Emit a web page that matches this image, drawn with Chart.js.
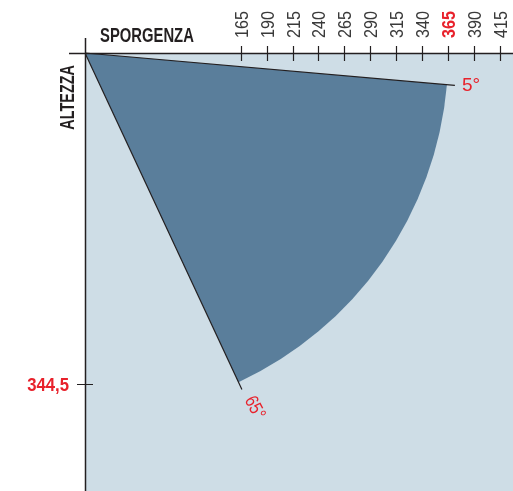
<!DOCTYPE html>
<html>
<head>
<meta charset="utf-8">
<script src="https://cdn.jsdelivr.net/npm/chart.js@4.4.1/dist/chart.umd.min.js"></script>
<style>
  html, body { margin: 0; padding: 0; background: #fff; }
  #wrap { position: relative; width: 513px; height: 491px; }
</style>
</head>
<body>
<div id="wrap"><canvas id="awning"></canvas></div>
<script>
// sporgenza (cm) tick labels on the top axis
const sporgenzaTicks = [165, 190, 215, 240, 265, 290, 315, 340, 365, 390, 415];
// altezza (cm) tick labels on the left axis
const altezzaTicks = [344.5];
// inclination range of the arm, degrees
const angoli = [5, 65];
// selected projection shown in the diagram
const sporgenzaSel = 365;

const RED = "#e8212b";
const DARK = "#231f20";
const FONT = "'Liberation Sans', Arial, sans-serif";

const rad = (d) => (d * Math.PI) / 180;

// condensed text: rotate then squeeze horizontally
function text(ctx, str, x, y, opts) {
  const o = Object.assign({ rot: 0, sx: 1, align: "left", base: "alphabetic" }, opts);
  ctx.save();
  ctx.translate(x, y);
  ctx.rotate(o.rot);
  ctx.scale(o.sx, 1);
  ctx.font = o.font;
  ctx.fillStyle = o.color;
  ctx.textAlign = o.align;
  ctx.textBaseline = o.base;
  ctx.fillText(str, 0, 0);
  ctx.restore();
}

const awningPlugin = {
  id: "awning",
  beforeDraw(chart) {
    const { ctx, chartArea: a } = chart;
    ctx.save();
    ctx.fillStyle = "#cedde6";
    ctx.fillRect(a.left, a.top, a.right - a.left, a.bottom - a.top);
    ctx.restore();
  },
  afterDraw(chart) {
    const { ctx, chartArea: a } = chart;
    const sx = chart.scales.x;
    const sy = chart.scales.y;
    const st = chart.scales.xTicks;
    const ox = sx.getPixelForValue(0);
    const oy = sy.getPixelForValue(0);
    const r = sx.getPixelForValue(sporgenzaSel) - ox;

    ctx.save();
    // sector
    ctx.beginPath();
    ctx.moveTo(ox, oy);
    ctx.arc(ox, oy, r, rad(angoli[0]), rad(angoli[1]));
    ctx.closePath();
    ctx.fillStyle = "#5a7e9b";
    ctx.fill();

    // arm lines
    const rl = r * 1.022;
    ctx.strokeStyle = DARK;
    ctx.lineWidth = 1.2;
    const ends = angoli.map((g) => [ox + rl * Math.cos(rad(g)), oy + rl * Math.sin(rad(g))]);
    ends.forEach(([ex, ey]) => {
      ctx.beginPath();
      ctx.moveTo(ox, oy);
      ctx.lineTo(ex, ey);
      ctx.stroke();
    });

    // axes
    ctx.lineWidth = 1.5;
    ctx.beginPath();
    ctx.moveTo(ox - 16, oy + 0.5);
    ctx.lineTo(a.right, oy + 0.5);
    ctx.moveTo(ox + 0.5, oy - 15);
    ctx.lineTo(ox + 0.5, a.bottom);
    ctx.stroke();

    // tick marks crossing the axes + tick labels
    ctx.lineWidth = 1.2;
    ctx.beginPath();
    st.ticks.forEach((t) => {
      const px = Math.round(st.getPixelForValue(t.value)) + 0.5;
      ctx.moveTo(px, oy - 7);
      ctx.lineTo(px, oy + 8);
    });
    sy.ticks.forEach((t) => {
      const py = Math.round(sy.getPixelForValue(t.value)) + 0.5;
      ctx.moveTo(ox - 8, py);
      ctx.lineTo(ox + 8, py);
    });
    ctx.stroke();

    st.ticks.forEach((t) => {
      const sel = t.value === sporgenzaSel;
      text(ctx, String(t.value), st.getPixelForValue(t.value) + 7, oy - 15, {
        rot: -Math.PI / 2, sx: 0.85,
        font: (sel ? "bold " : "") + "19px " + FONT,
        color: sel ? RED : "#3a3a3a",
      });
    });
    sy.ticks.forEach((t) => {
      text(ctx, String(t.value).replace(".", ","), ox - 16, sy.getPixelForValue(t.value) + 7, {
        sx: 0.88, align: "right",
        font: "bold 19px " + FONT, color: RED,
      });
    });

    // axis titles
    text(ctx, "SPORGENZA", ox + 15, oy - 11, { sx: 0.76, font: "bold 19.5px " + FONT, color: DARK });
    text(ctx, "ALTEZZA", ox - 11, oy + 12, {
      rot: -Math.PI / 2, sx: 0.74, align: "right", font: "bold 19.5px " + FONT, color: DARK,
    });

    // angle labels
    text(ctx, angoli[0] + "°", ends[0][0] + 7, ends[0][1] + 5.5, { font: "19px " + FONT, color: RED });
    text(ctx, angoli[1] + "°", ends[1][0] + 7, ends[1][1] + 8, {
      rot: rad(62), sx: 0.82, base: "middle", font: "19px " + FONT, color: RED,
    });
    ctx.restore();
  },
};

new Chart(document.getElementById("awning"), {
  type: "scatter",
  data: { datasets: [] },
  options: {
    responsive: true,
    maintainAspectRatio: false,
    animation: false,
    layout: { padding: 0 },
    plugins: { legend: { display: false }, tooltip: { enabled: false } },
    scales: {
      x: { type: "linear", display: false, min: 0, max: 430 },
      xTicks: {
        type: "linear",
        position: "top",
        min: 15.3,
        max: 427.2,
        afterBuildTicks: (s) => { s.ticks = sporgenzaTicks.map((v) => ({ value: v })); },
        afterFit: (s) => { s.height = 53; s.paddingLeft = s.paddingRight = 0; },
        grid: { display: false },
        border: { display: false },
        ticks: { display: false },
      },
      y: {
        type: "linear",
        reverse: true,
        min: 0,
        max: 455.4,
        afterBuildTicks: (s) => { s.ticks = altezzaTicks.map((v) => ({ value: v })); },
        afterFit: (s) => { s.width = 85; s.paddingTop = s.paddingBottom = 0; },
        grid: { display: false },
        border: { display: false },
        ticks: { display: false },
      },
    },
  },
  plugins: [awningPlugin],
});
</script>
</body>
</html>
